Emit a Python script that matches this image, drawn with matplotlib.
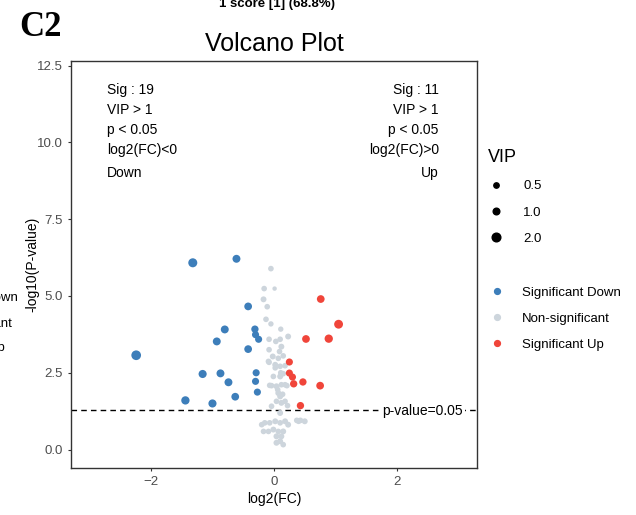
import matplotlib
matplotlib.use("Agg")
import matplotlib.pyplot as plt
from matplotlib.lines import Line2D

plt.rcParams['font.family'] = ['Liberation Sans', 'DejaVu Sans']

# significant down (blue)
down_fc = [-1.32, -0.61, -2.24, -0.42, -0.80, -0.93, -0.31, -0.30, -0.25, -0.42,
           -1.16, -0.87, -0.74, -0.29, -0.30, -0.27, -0.63, -1.44, -1.00]
down_p = [6.08, 6.21, 3.07, 4.66, 3.91, 3.52, 3.92, 3.74, 3.59, 3.27,
          2.46, 2.48, 2.19, 2.50, 2.22, 1.87, 1.72, 1.60, 1.50]
down_vip = [2.2, 1.6, 2.6, 1.5, 1.6, 1.6, 1.3, 1.2, 1.2, 1.5,
            1.7, 1.6, 1.6, 1.2, 1.2, 1.2, 1.5, 1.8, 1.7]

# significant up (red)
up_fc = [0.76, 1.05, 0.89, 0.52, 0.25, 0.25, 0.30, 0.32, 0.47, 0.75, 0.43]
up_p = [4.90, 4.08, 3.61, 3.60, 2.85, 2.49, 2.36, 2.14, 2.20, 2.08, 1.43]
up_vip = [1.5, 2.1, 1.8, 1.5, 1.2, 1.2, 1.2, 1.3, 1.3, 1.5, 1.3]

# non-significant (grey)
ns_fc = [-0.05, -0.16, 0.01, -0.17, -0.11, -0.13, -0.05, 0.11, 0.23, -0.08,
         0.03, 0.10, 0.12, 0.09, -0.08, -0.02, 0.07, 0.15, -0.08, 0.02,
         0.10, 0.18, 0.15, 0.10, -0.01, -0.04, 0.04, 0.12, 0.18, 0.07,
         0.10, 0.04, 0.12, 0.18, -0.04, 0.22, 0.10, -0.15, -0.07, 0.02,
         0.10, 0.18, -0.17, -0.09, -0.01, 0.07, 0.15, 0.23, 0.04, 0.10,
         0.12, 0.37, 0.43, 0.50, 0.40, 0.04, 0.15, -0.09, 0.02, 0.11,
         -0.07, 0.21, 0.06, 0.14, -0.20]
ns_p = [5.89, 5.24, 5.24, 4.89, 4.65, 4.24, 4.09, 3.92, 3.68, 3.59,
        3.52, 3.59, 3.35, 3.19, 3.25, 3.03, 2.97, 3.05, 2.84, 2.76,
        2.71, 2.73, 2.47, 2.38, 2.38, 2.08, 2.06, 2.11, 2.11, 1.84,
        1.73, 1.57, 1.52, 1.57, 1.41, 1.43, 1.19, 0.87, 0.87, 0.92,
        0.87, 0.92, 0.59, 0.59, 0.65, 0.59, 0.59, 0.81, 0.43, 0.27,
        0.43, 0.95, 0.95, 0.92, 0.92, 0.22, 0.16, 2.87, 2.66, 2.50,
        2.09, 2.08, 1.95, 1.80, 0.81]
ns_vip = [0.6, 0.6, 0.2, 0.7, 0.6, 0.6, 0.5, 0.5, 0.7, 0.6,
          0.6, 0.6, 0.7, 0.6, 0.6, 0.7, 0.6, 0.6, 0.6, 0.7,
          0.6, 0.6, 0.6, 0.7, 0.6, 0.6, 0.7, 0.6, 0.6, 0.7,
          0.7, 0.6, 0.7, 0.6, 0.6, 0.6, 0.7, 0.6, 0.6, 0.7,
          0.6, 0.7, 0.6, 0.6, 0.7, 0.6, 0.7, 0.7, 0.7, 0.7,
          0.7, 0.6, 0.6, 0.7, 0.6, 0.7, 0.6, 0.6, 0.6, 0.6,
          0.6, 0.6, 0.6, 0.6, 0.6]

vip_legend = [0.5, 1.0, 2.0]
group_labels = ["Significant Down", "Non-significant", "Significant Up"]
group_colors = ["#3D7EBA", "#CDD5DC", "#F0453A"]


def vsize(v):
    return 7 + 16 * v


fig = plt.figure(figsize=(6.36, 5.15), dpi=100)
ax = fig.add_axes([0.1116, 0.0913, 0.6384, 0.7903])

ax.scatter(ns_fc, ns_p, s=[vsize(v) for v in ns_vip], color=group_colors[1], linewidths=0, zorder=2)
ax.scatter(down_fc, down_p, s=[vsize(v) for v in down_vip], color=group_colors[0], linewidths=0, zorder=3)
ax.scatter(up_fc, up_p, s=[vsize(v) for v in up_vip], color=group_colors[2], linewidths=0, zorder=3)

ax.axhline(1.301, color="black", linestyle=(0, (4, 3)), linewidth=1.0, zorder=1)
ax.text(2.42, 1.25, "p-value=0.05", ha="center", va="center", fontsize=10,
        bbox=dict(facecolor="white", edgecolor="none", pad=1), zorder=4)

ax.set_xlim(-3.3, 3.3)
ax.set_ylim(-0.6, 12.65)
ax.set_xticks([-2, 0, 2])
ax.set_yticks([0, 2.5, 5, 7.5, 10, 12.5])
ax.set_yticklabels(["0.0", "2.5", "5.0", "7.5", "10.0", "12.5"])
ax.tick_params(labelsize=9.5, labelcolor="#4D4D4D", length=2.5, width=0.8, color="#333333")
for sp in ax.spines.values():
    sp.set_color("#333333")
    sp.set_linewidth(1.0)

ax.set_xlabel("log2(FC)", fontsize=10, labelpad=3)
ax.set_ylabel("-log10(P-value)", fontsize=10, labelpad=-2)
ax.set_title("Volcano Plot", fontsize=18, pad=7)

left_txt = ["Sig : 19", "VIP > 1", "p < 0.05", "log2(FC)<0", "Down"]
right_txt = ["Sig : 11", "VIP > 1", "p < 0.05", "log2(FC)>0", "Up"]
txt_y = [11.69, 11.04, 10.39, 9.74, 8.99]
for t, y in zip(left_txt, txt_y):
    ax.text(-2.72, y, t, ha="left", va="center", fontsize=10)
for t, y in zip(right_txt, txt_y):
    ax.text(2.68, y, t, ha="right", va="center", fontsize=10)

# VIP size legend
h1 = [Line2D([], [], marker="o", linestyle="", color="black",
             markersize=vsize(v) ** 0.5) for v in vip_legend]
leg1 = fig.legend(h1, [f"{v:.1f}" for v in vip_legend], title="VIP",
                  loc="upper left", bbox_to_anchor=(0.748, 0.733), frameon=False,
                  fontsize=9.5, title_fontsize=13, labelspacing=1.05,
                  handletextpad=1.5, handlelength=1.2)
leg1._legend_box.align = "left"

h2 = [Line2D([], [], marker="o", linestyle="", color=c, markersize=4.2) for c in group_colors]
fig.legend(h2, group_labels, loc="upper left", bbox_to_anchor=(0.752, 0.467), frameon=False,
           fontsize=9.5, labelspacing=1.05, handletextpad=1.4, handlelength=1.0)

# panel letter and cut-off texts from neighbouring panels
fig.text(0.031, 0.930, "C2", fontsize=25, fontweight="bold", family="Liberation Serif")
fig.text(0.436, 0.987, "1 score [1] (68.8%)", ha="center", va="baseline", fontsize=9.5, fontweight="bold")
fig.text(0.028, 0.421, "Significant Down", ha="right", va="center", fontsize=9.5)
fig.text(0.020, 0.371, "Non-significant", ha="right", va="center", fontsize=9.5)
fig.text(0.008, 0.325, "Significant Up", ha="right", va="center", fontsize=9.5)

fig.savefig("out.png", dpi=100)
